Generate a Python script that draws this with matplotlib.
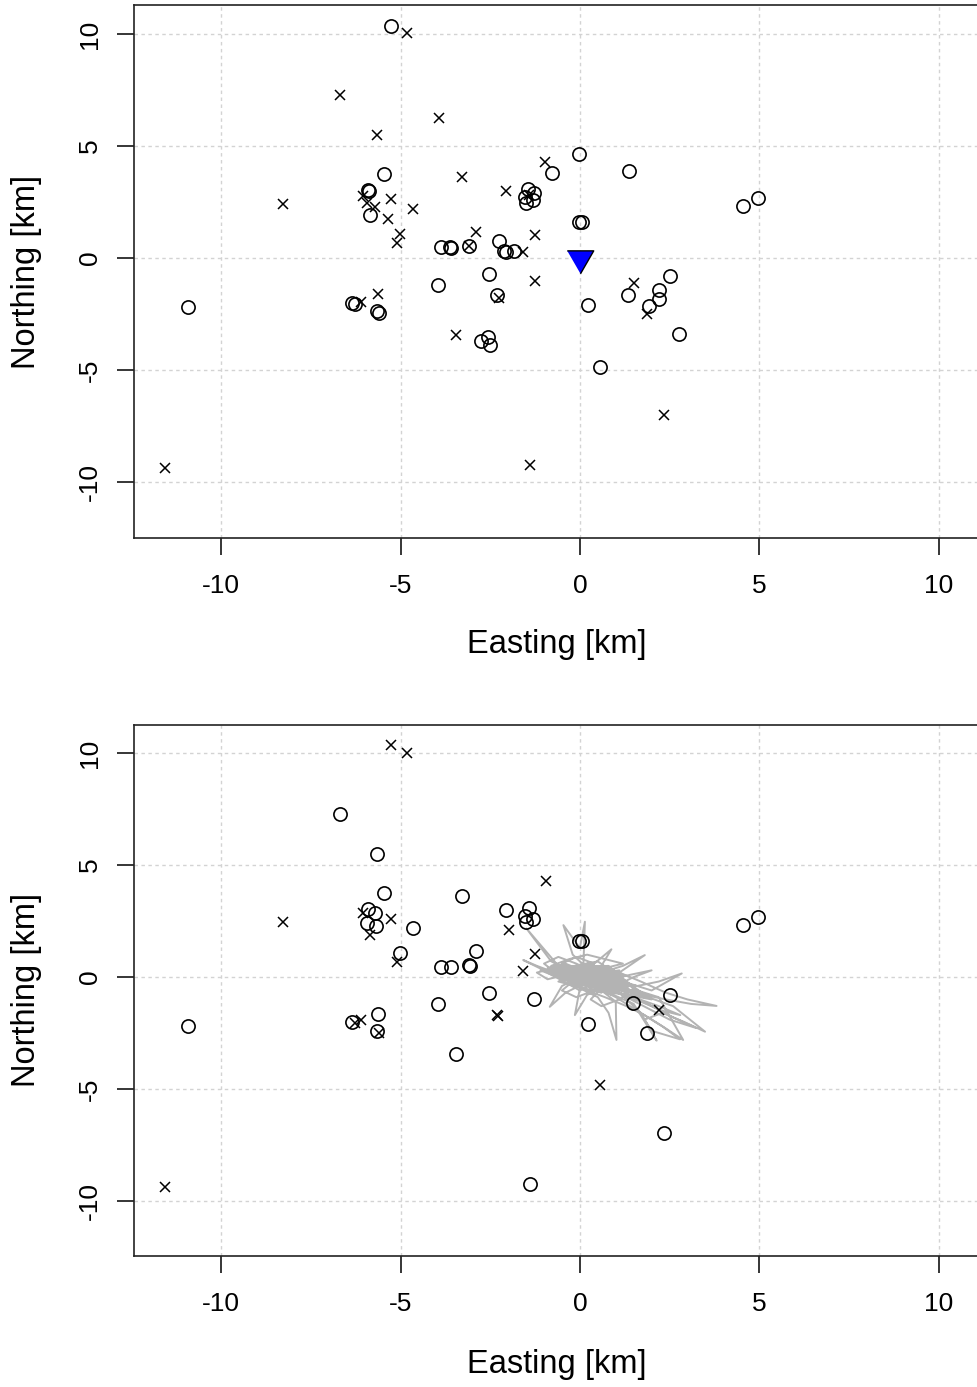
import matplotlib
matplotlib.use("Agg")
import matplotlib.pyplot as plt

plt.rcParams['font.family'] = ['Liberation Sans', 'DejaVu Sans']
plt.rcParams['axes.unicode_minus'] = False

# ---- top panel: events (circles / crosses) and the station ----
top_circle_x = [-5.27, -5.47, -5.92, -5.88, -5.84, -3.86, -3.63, -3.59, -3.09, -0.03, -0.79, 1.38,
                -1.44, -1.27, -1.53, -1.32, -1.51, -0.03, 0.07, -2.25, -2.12, -2.06, -1.84, -2.53,
                -3.95, -2.32, 0.23, 1.35, 2.51, 2.20, 2.20, 1.93, 2.76, 0.55, -2.77, -2.56, -2.51,
                4.56, 4.97, -10.92, -6.34, -6.28, -5.65, -5.60]
top_circle_y = [10.37, 3.76, 3.05, 3.00, 1.92, 0.48, 0.48, 0.44, 0.54, 4.64, 3.78, 3.90,
                3.07, 2.89, 2.71, 2.59, 2.44, 1.62, 1.62, 0.77, 0.33, 0.29, 0.33, -0.71,
                -1.21, -1.66, -2.11, -1.65, -0.80, -1.43, -1.84, -2.13, -3.41, -4.85, -3.71, -3.51, -3.88,
                2.34, 2.68, -2.17, -2.02, -2.06, -2.35, -2.47]

top_cross_x = [-4.83, -6.68, -3.92, -5.67, -0.96, -3.28, -8.29, -6.04, -5.93, -5.70, -5.27, -4.65,
               -5.35, -5.01, -5.09, -2.06, -2.90, -1.26, -3.09, -1.58, -1.41, -1.26, -2.25, 1.51,
               1.86, 2.35, -3.44, -6.09, -5.62, -11.56, -1.39]
top_cross_y = [10.03, 7.29, 6.25, 5.49, 4.29, 3.60, 2.41, 2.77, 2.47, 2.29, 2.62, 2.19,
               1.76, 1.06, 0.68, 3.01, 1.15, 1.03, 0.54, 0.29, 2.80, -1.01, -1.80, -1.13,
               -2.51, -7.01, -3.44, -1.95, -1.62, -9.36, -9.24]

station_x = [0.0]
station_y = [0.0]

# ---- bottom panel: relocated events and the location trace ----
bot_circle_x = [-6.68, -5.67, -5.47, -5.92, -5.72, -5.94, -5.69, -4.65, -5.02, -3.86, -3.60, -3.29,
                -2.06, -1.41, -1.53, -1.30, -1.51, -0.03, 0.07, -2.90, -3.09, -3.06, -2.53, -3.95,
                -1.28, 1.49, 2.51, 0.23, 1.86, -3.44, 2.35, 4.56, 4.97, -10.92, -6.34, -5.64,
                -5.65, -1.39]
bot_circle_y = [7.28, 5.48, 3.76, 3.04, 2.84, 2.42, 2.28, 2.17, 1.09, 0.46, 0.46, 3.62,
                2.99, 3.07, 2.74, 2.58, 2.46, 1.62, 1.62, 1.16, 0.54, 0.50, -0.71, -1.21,
                -1.00, -1.15, -0.80, -2.11, -2.51, -3.44, -6.98, 2.32, 2.68, -2.17, -2.00, -1.67,
                -2.40, -9.24]

bot_cross_x = [-5.27, -4.83, -8.29, -6.04, -5.27, -5.84, -5.09, -0.95, -1.98, -1.26, -1.58, -2.32,
               -2.28, 2.21, 0.56, -6.28, -6.09, -5.60, -11.56]
bot_cross_y = [10.36, 10.01, 2.44, 2.84, 2.60, 1.90, 0.68, 4.27, 2.10, 1.01, 0.28, -1.70,
               -1.76, -1.47, -4.84, -2.03, -1.92, -2.52, -9.36]

# trace of the location estimate (read off the grey scribble)
trace_x = [0.0, 0.4, 0.1, 0.6, 0.3, -0.2, -0.5, 0.0, 0.5, 0.9, 1.3, 0.8, 0.4, -0.1, -0.6, -0.9,
           -0.4, 0.2, 0.7, 1.2, 1.7, 2.3, 2.8, 2.2, 1.5, 0.9, 0.3, -0.3, -0.8, -1.49, -0.6, 0.0,
           0.5, 1.1, 1.81, 1.2, 0.6, 0.1, 0.14, 0.0, -0.46, -0.2, 0.2, 0.8, 1.4, 2.0, 2.84, 2.2,
           1.6, 1.0, 0.5, 0.0, -0.5, -0.84, -0.4, 0.1, 0.6, 1.0, 1.02, 0.8, 0.5, 0.0, -0.14, 0.2,
           0.7, 1.3, 1.9, 2.5, 3.25, 2.6, 2.0, 1.4, 0.9, 0.4, -0.2, -0.7, -1.2, -1.58, -1.0, -0.4,
           0.3, 0.8, 1.5, 2.14, 1.7, 1.1, 0.6, 0.0, -0.5, -0.1, 0.4, 0.88, 0.6, 1.1, 1.7, 2.4,
           3.0, 3.81, 3.1, 2.4, 1.8, 1.2, 0.6, 0.1, -0.4, -0.9, -1.2, -0.7, -0.2, 0.3, 0.8, 1.3,
           1.9, 2.6, 3.49, 2.9, 2.3, 1.8, 2.0, 2.79, 2.3, 1.6, 1.0, 0.5, 0.0, -0.6, -1.0, -0.6,
           -0.1, 0.4, 0.9, 1.4, 2.0, 1.5, 1.0, 0.4, -0.1, -0.5, -0.2, 0.3, 0.7, 1.2, 0.7, 0.2,
           -0.3, -0.8, -0.5, 0.0, 0.5, 1.0, 1.6, 2.2, 2.88, 2.4, 1.8, 1.3, 0.7, 0.2, -0.3, 0.2,
           0.7, 1.2, 0.8, 0.3, -0.2, 0.0, 0.5, 1.0, 1.5, 1.1, 0.6, 0.3, 0.6, 0.2,
           0.2, -0.3, 0.5, -0.6, 0.8, 0.0, -0.9, 0.6, 1.1, -0.2, 0.4, -0.7, 1.0, 0.3, -0.4, 0.9,
           1.4, 0.1, -0.5, 0.7, -0.1, 1.2, 0.5, -0.8, 0.3, 0.9, -0.3, 1.5, 0.2, -0.6, 0.6, 1.1,
           -0.2, 0.4, 1.8, 0.8, -0.4, 0.1, 1.3, 0.6, -1.1, 0.0, 0.7, 1.6, 0.3, -0.5, 0.9, 0.2,
           1.2, -0.3, 0.5, 2.0, 1.0, 0.1, -0.7, 0.4, 1.4, 0.7, -0.2, 0.3]
trace_y = [0.0, -0.2, 0.3, 0.1, -0.4, -0.1, 0.3, 0.5, 0.2, -0.3, -0.5, -0.1, 0.4, 0.2, 0.0, 0.4,
           0.6, 0.2, -0.2, -0.8, -1.1, -1.5, -1.7, -1.3, -0.9, -0.6, -0.2, 0.3, 0.7, 2.17, 0.5, 0.1,
           -0.1, 0.2, 0.98, 0.5, 0.2, 0.6, 2.47, 1.3, 2.32, 1.0, 0.4, 0.0, -0.3, -0.6, 0.16, -0.2,
           -0.4, -0.2, 0.3, 0.0, -0.4, -1.33, -0.7, -0.3, -0.6, -1.1, -2.81, -1.6, -0.9, -0.5, -1.70, -0.8,
           -0.4, -0.9, -1.4, -1.9, -2.28, -1.8, -1.3, -0.8, -0.4, 0.0, 0.4, 0.2, 0.5, 0.76, 0.3, -0.1,
           -0.3, -0.7, -1.2, -2.84, -1.6, -0.7, -0.3, 0.2, 0.6, 0.9, 0.6, 1.24, 0.5, 0.2, -0.2, -0.7,
           -1.0, -1.29, -1.2, -1.0, -0.8, -0.5, -0.2, -0.1, 0.1, -0.1, 0.2, 0.4, 0.1, 0.3, 0.2, -0.2,
           -0.9, -1.3, -2.44, -2.0, -1.6, -1.9, -2.4, -2.78, -2.2, -1.5, -0.9, -0.5, -0.2, 0.1, 0.6, 0.9,
           0.6, 0.2, -0.1, 0.1, 0.3, 0.0, -0.4, -0.6, -0.9, -0.6, -0.2, 0.0, 0.4, 0.6, 0.8, 1.0,
           0.8, 0.5, 0.2, -0.1, -0.3, -0.6, -0.6, -0.9, -2.81, -2.3, -1.7, -1.3, -0.9, -0.6, -0.3, 0.0,
           -0.1, -0.3, -0.5, -0.4, 0.0, 0.3, 0.1, 0.0, -0.5, -1.0, -1.3, -1.0, -0.5, -0.1,
           0.3, -0.2, -0.5, 0.4, 0.1, -0.6, 0.2, 0.5, -0.4, -0.3, 0.6, 0.1, -0.7, 0.0, 0.5, 0.3,
           -0.6, -0.2, 0.5, -0.5, 0.2, -0.1, 0.7, 0.3, -0.3, -0.8, 0.1, -0.4, 0.4, -0.2, -0.7, 0.3,
           0.0, -0.6, -0.9, 0.5, 0.4, -0.1, -0.2, 0.4, 0.3, -0.4, -0.3, -0.8, 0.2, 0.0, -0.5, 0.6,
           0.1, 0.2, -0.2, -1.0, -0.7, 0.4, 0.5, -0.3, -0.4, 0.2, 0.1, 0.0]

ticks = [-10, -5, 0, 5, 10]

# station marker: down triangle centred on its centroid (like R's pch 25)
tri = [(-1.0, 0.577), (1.0, 0.577), (0.0, -1.155)]


def style_axes(ax, ylim):
    ax.set_xlim(-12.43, 11.17)
    ax.set_ylim(*ylim)
    ax.set_xticks(ticks)
    ax.set_yticks(ticks)
    ax.grid(True, color='#d3d3d3', linestyle=(0, (2.5, 2.5)), linewidth=1.0)
    ax.set_axisbelow(True)
    for s in ax.spines.values():
        s.set_linewidth(1.2)
        s.set_color('#222222')
    ax.tick_params(direction='out', length=12, width=1.1, labelsize=19, pad=14)
    ax.tick_params(axis='y', pad=11)
    for lab in ax.get_yticklabels():
        lab.set_rotation(90)
        lab.set_va('center')


fig = plt.figure(figsize=(9.77, 13.87), dpi=100)

ax1 = fig.add_axes([0.1372, 0.6121, 0.8664, 0.3840])
ax1.plot(top_circle_x, top_circle_y, 'o', mfc='none', mec='black', ms=9.5, mew=1.2)
ax1.plot(top_cross_x, top_cross_y, 'x', color='black', ms=7.5, mew=1.1)
ax1.plot(station_x, station_y, marker=tri, linestyle='none', ms=22, mfc='#0000ff',
         mec='black', mew=1.0)
style_axes(ax1, (-12.5, 11.28))

ax2 = fig.add_axes([0.1372, 0.0944, 0.8664, 0.3828])
ax2.plot(trace_x, trace_y, color='#b3b3b3', linewidth=1.4)
ax2.plot(bot_circle_x, bot_circle_y, 'o', mfc='none', mec='black', ms=9.5, mew=1.2)
ax2.plot(bot_cross_x, bot_cross_y, 'x', color='black', ms=7.5, mew=1.1)
style_axes(ax2, (-12.46, 11.25))

# axis titles placed like R's xlab / ylab
for yc_lab, yc_ax in [(645, 272), (1365, 990)]:
    fig.text(557 / 977, 1 - yc_lab / 1387, 'Easting [km]', ha='center', va='center', fontsize=23.5)
    fig.text(27 / 977, 1 - yc_ax / 1387, 'Northing [km]', ha='center', va='center',
             rotation=90, fontsize=23.5)

fig.savefig('out.png', dpi=100)
